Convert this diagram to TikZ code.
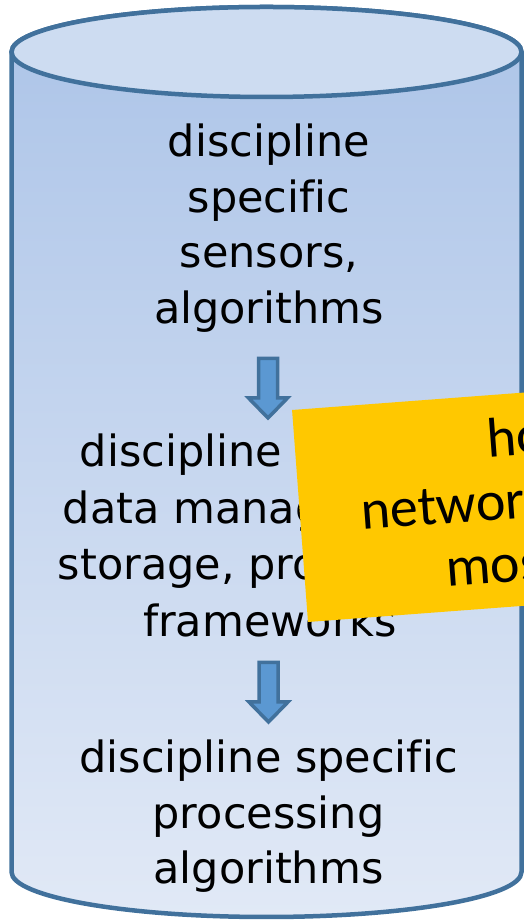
\documentclass[tikz,border=0pt]{standalone}
\usepackage{fontspec}
\setmainfont{DejaVu Sans}[Ligatures=NoCommon]
\newfontfamily\notefont{Carlito}[Ligatures=NoCommon]
\definecolor{cylline}{RGB}{65,113,156}
\definecolor{cyltop}{RGB}{205,220,241}
\definecolor{bodytop}{RGB}{172,196,232}
\definecolor{bodybot}{RGB}{225,233,246}
\definecolor{arrfill}{RGB}{91,152,210}
\definecolor{noteyellow}{RGB}{255,200,0}
\begin{document}
\begin{tikzpicture}[x=1pt,y=1pt,
  lbl/.style={anchor=base,inner sep=0pt,font=\fontsize{43}{56}\selectfont},
  notelbl/.style={anchor=base west,inner sep=0pt,font=\notefont\fontsize{56}{63}\selectfont,transform shape},
  downarrow/.pic={\draw[cylline,line width=3.5pt,fill=arrfill,line join=miter]
      (-9.5,0) -- (9.5,0) -- (9.5,-39.5) -- (19.5,-39.5) -- (0,-59.5)
      -- (-19.5,-39.5) -- (-9.5,-39.5) -- cycle;}]
\useasboundingbox (0,0) rectangle (524,920);
\clip (0,0) rectangle (524,920);
% cylinder body
\draw[cylline,line width=4.5pt,top color=bodytop,bottom color=bodybot]
  (11.5,868) -- (11.5,48) arc[start angle=180,end angle=360,x radius=255,y radius=45]
  -- (521.5,868) arc[start angle=0,end angle=180,x radius=255,y radius=45] -- cycle;
\draw[cylline,line width=4.5pt,fill=cyltop] (266.5,868) ellipse[x radius=255,y radius=45];
% block 1
\node[lbl] (a1) at (269,763) {discipline};
\node[lbl] (a2) at (269,707.5) {specific};
\node[lbl] (a3) at (269,652) {sensors,};
\node[lbl] (a4) at (269,596.5) {algorithms};
% block 2
\node[lbl] (b1) at (269,453) {discipline specific};
\node[lbl] (b2) at (269,396.5) {data management,};
\node[lbl] (b3) at (269,340) {storage, processing};
\node[lbl] (b4) at (270,283.5) {frameworks};
% block 3
\node[lbl] (c1) at (268.5,147) {discipline specific};
\node[lbl] (c2) at (268.5,91) {processing};
\node[lbl] (c3) at (268.5,36) {algorithms};
% arrows
\pic at (268,561.5) {downarrow};
\pic at (268.5,257.5) {downarrow};
% yellow note
\begin{scope}[shift={(308,298)},rotate=4.3]
  \fill[noteyellow] (0,0) rectangle (320,212.6);
  \node[notelbl] (n1) at (191.9,151) {ho};
  \node[notelbl] (n2) at (60.7,87.7) {networ};
  \node[notelbl] (n3) at (141.2,24.5) {mos};
\end{scope}
\end{tikzpicture}
\end{document}
